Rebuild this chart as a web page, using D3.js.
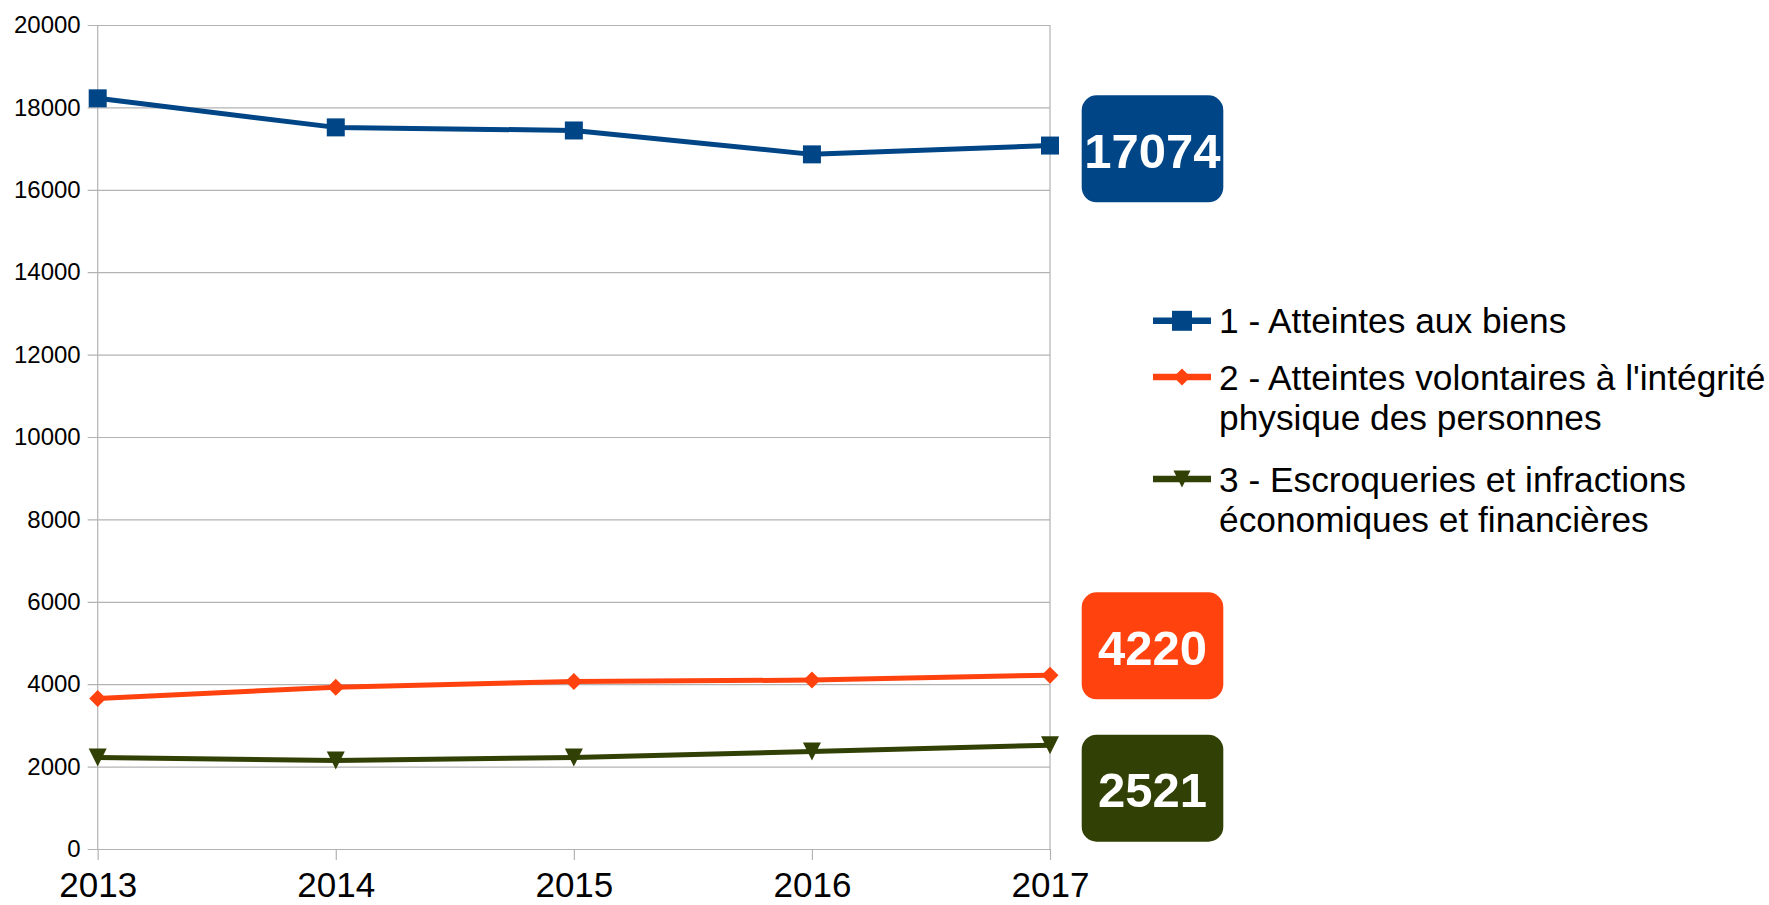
<!DOCTYPE html>
<html>
<head>
<meta charset="utf-8">
<script src="https://cdn.jsdelivr.net/npm/d3@7"></script>
<style>
  body { margin: 0; background: #fff; }
  text { font-family: "Liberation Sans", Arial, sans-serif; fill: #000; }
</style>
</head>
<body>
<script>
const w = 1769;
const h = 905;

// data
const years = [2013, 2014, 2015, 2016, 2017];
const biens = [18220, 17515, 17440, 16860, 17074];
const integrite = [3655, 3925, 4065, 4100, 4220];
const escroqueries = [2220, 2150, 2220, 2365, 2521];
const seriesNames = [
  ["1 - Atteintes aux biens"],
  ["2 - Atteintes volontaires à l'intégrité", "physique des personnes"],
  ["3 - Escroqueries et infractions", "économiques et financières"]
];
const yTicks = [0, 2000, 4000, 6000, 8000, 10000, 12000, 14000, 16000, 18000, 20000];

const colors = ["#004586", "#ff420e", "#314004"];
const allSeries = [biens, integrite, escroqueries];

// plot area
const x0 = 97.7, x1 = 1050;
const yTop = 25, yBottom = 849;

const xScale = d3.scaleLinear().domain([2013, 2017]).range([x0, x1]);
const yScale = d3.scaleLinear().domain([0, 20000]).range([yBottom, yTop]);

// marker shapes
const square = { draw(ctx, size) { const r = Math.sqrt(size) / 2; ctx.rect(-r, -r, 2 * r, 2 * r); } };
const diamond = { draw(ctx, size) { const r = Math.sqrt(size) / 2;
  ctx.moveTo(0, -r); ctx.lineTo(r, 0); ctx.lineTo(0, r); ctx.lineTo(-r, 0); ctx.closePath(); } };
const triDown = { draw(ctx, size) { const r = Math.sqrt(size) / 2;
  ctx.moveTo(-r, -r); ctx.lineTo(r, -r); ctx.lineTo(0, r); ctx.closePath(); } };
const shapes = [square, diamond, triDown];
const markerSize = [18, 17, 18];

const svg = d3.select("body").append("svg")
  .attr("width", w)
  .attr("height", h);

svg.append("rect").attr("width", w).attr("height", h).attr("fill", "#fff");

// y axis + horizontal grid
const yAxis = d3.axisLeft(yScale)
  .tickValues(yTicks)
  .tickFormat(d3.format("d"))
  .tickSizeInner(-(x1 - x0 + 10))
  .tickSizeOuter(0)
  .tickPadding(7);

const gy = svg.append("g")
  .attr("transform", "translate(" + (x0 - 10) + ",0)")
  .call(yAxis);
gy.select(".domain").remove();
gy.selectAll("line").attr("stroke", "#b3b3b3").attr("stroke-width", 1.2);
gy.selectAll("text").attr("font-size", 24).style("font-family", "'Liberation Sans', Arial, sans-serif");

// x axis
const xAxis = d3.axisBottom(xScale)
  .tickValues(years)
  .tickFormat(d3.format("d"))
  .tickSizeInner(11)
  .tickSizeOuter(0)
  .tickPadding(12);

const gx = svg.append("g")
  .attr("transform", "translate(0," + yBottom + ")")
  .call(xAxis);
gx.select(".domain").remove();
gx.selectAll("line").attr("stroke", "#b3b3b3").attr("stroke-width", 1.2);
gx.selectAll("text").attr("font-size", 35).style("font-family", "'Liberation Sans', Arial, sans-serif");

// left and right borders of the plot
svg.selectAll(".border")
  .data([2013, 2017])
  .enter().append("line")
  .attr("class", "border")
  .attr("x1", d => xScale(d)).attr("x2", d => xScale(d))
  .attr("y1", yScale(20000)).attr("y2", yScale(0))
  .attr("stroke", "#b3b3b3").attr("stroke-width", 1.2);

// lines + markers
const line = d3.line()
  .x((d, i) => xScale(years[i]))
  .y(d => yScale(d));

allSeries.forEach((vals, s) => {
  svg.append("path")
    .datum(vals)
    .attr("d", line)
    .attr("fill", "none")
    .attr("stroke", colors[s])
    .attr("stroke-width", 5)
    .attr("stroke-linejoin", "round");

  svg.selectAll(".m" + s)
    .data(vals)
    .enter().append("path")
    .attr("class", "m" + s)
    .attr("transform", (d, i) => "translate(" + xScale(years[i]) + "," + yScale(d) + ")")
    .attr("d", d3.symbol().type(shapes[s]).size(markerSize[s] * markerSize[s]))
    .attr("fill", colors[s]);
});

// value badges on the last year
const badgeDx = 31.7, badgeW = 141.6, badgeH = 107;
const badgeNudge = [3.3, -29.3, 43];

allSeries.forEach((vals, s) => {
  const last = vals[vals.length - 1];
  const cy = yScale(last) + badgeNudge[s];
  const bx = xScale(years[years.length - 1]) + badgeDx;
  svg.append("rect")
    .attr("x", bx).attr("y", cy - badgeH / 2)
    .attr("width", badgeW).attr("height", badgeH)
    .attr("rx", 15).attr("ry", 15)
    .attr("fill", colors[s]);
  svg.append("text")
    .attr("x", bx + badgeW / 2)
    .attr("y", cy + 19)
    .attr("text-anchor", "middle")
    .attr("font-size", 49)
    .attr("font-weight", "bold")
    .style("fill", "#fff")
    .text(last);
});

// legend
const legendX = 1153, legendLineW = 58, legendTextX = 1219;
const legendBaselines = [333.3, 389.5, 491.5];
const legendLineGap = 40.5;

seriesNames.forEach((lines, s) => {
  const base = legendBaselines[s];
  const my = base - 12.5;
  svg.append("line")
    .attr("x1", legendX).attr("x2", legendX + legendLineW)
    .attr("y1", my).attr("y2", my)
    .attr("stroke", colors[s]).attr("stroke-width", 6.5);
  svg.append("path")
    .attr("transform", "translate(" + (legendX + legendLineW / 2) + "," + my + ")")
    .attr("d", d3.symbol().type(shapes[s]).size(s === 0 ? 400 : 289))
    .attr("fill", colors[s]);

  const t = svg.append("text")
    .attr("x", legendTextX)
    .attr("y", base)
    .attr("font-size", 35.3);
  lines.forEach((ln, k) => {
    t.append("tspan")
      .attr("x", legendTextX)
      .attr("y", base + k * legendLineGap)
      .text(ln);
  });
});
</script>
</body>
</html>
